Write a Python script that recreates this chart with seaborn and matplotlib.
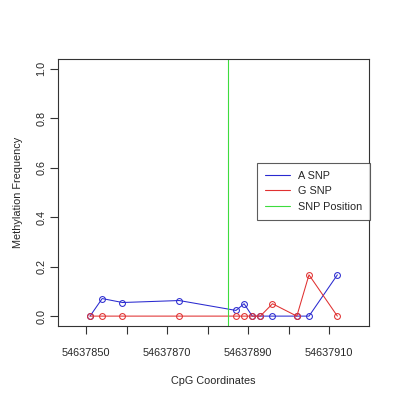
import matplotlib
matplotlib.use('Agg')
import matplotlib.pyplot as plt
from matplotlib.lines import Line2D
import seaborn as sns
import pandas as pd

# ─── Data ─────────────────────────────────────────────────────────────────────
positions = [54637851, 54637854, 54637859, 54637873, 54637887, 54637889,
             54637891, 54637893, 54637896, 54637902, 54637905, 54637912]
a_snp = [0.0, 0.071, 0.055, 0.063, 0.023, 0.05, 0.0, 0.0, 0.0, 0.0, 0.0, 0.167]
g_snp = [0.0, 0.0, 0.0, 0.0, 0.0, 0.0, 0.0, 0.0, 0.05, 0.0, 0.167, 0.0]
snp_position = 54637885
x_ticks = [54637850, 54637860, 54637870, 54637880, 54637890, 54637900, 54637910]
x_labels = ['54637850', '', '54637870', '', '54637890', '', '54637910']
y_ticks = [0.0, 0.2, 0.4, 0.6, 0.8, 1.0]
legend_labels = ['A SNP', 'G SNP', 'SNP Position']

BLUE = '#2a2ad0'
RED = '#e03030'
GREEN = '#3ddc3d'
FS = 7.8

sns.set_style('white')
plt.rcParams['font.family'] = ['Liberation Sans', 'DejaVu Sans']
plt.rcParams['font.size'] = FS

df = pd.DataFrame({'pos': positions, 'A': a_snp, 'G': g_snp})

fig = plt.figure(figsize=(4, 4), dpi=100)
ax = fig.add_axes([0.146, 0.185, 0.7765, 0.6675])

line_kw = dict(marker='o', markersize=4.2, markerfacecolor='none',
               markeredgewidth=0.75, linewidth=0.75, legend=False)
sns.lineplot(data=df, x='pos', y='A', color=BLUE, markeredgecolor=BLUE,
             ax=ax, **line_kw)
sns.lineplot(data=df, x='pos', y='G', color=RED, markeredgecolor=RED,
             ax=ax, **line_kw)
ax.axvline(snp_position, color=GREEN, linewidth=0.8)

ax.set_xlim(54637843.2, 54637919.8)
ax.set_ylim(-0.04, 1.04)
ax.set_xticks(x_ticks)
ax.set_xticklabels(x_labels)
ax.set_yticks(y_ticks)
ax.set_yticklabels([f'{v:.1f}' for v in y_ticks], rotation=90, va='center')

ax.tick_params(axis='both', direction='out', length=6, width=0.8,
               color='#333333', labelsize=FS, bottom=True, left=True)
ax.tick_params(axis='x', pad=10)
ax.tick_params(axis='y', pad=2.5)
for s in ax.spines.values():
    s.set_color('#333333')
    s.set_linewidth(0.8)

ax.set_xlabel('CpG Coordinates', fontsize=FS, labelpad=12.5)
ax.set_ylabel('Methylation Frequency', fontsize=FS, labelpad=10)

# legend shows lines only
handles = [Line2D([], [], color=c, linewidth=0.8) for c in (BLUE, RED, GREEN)]
leg = ax.legend(handles, legend_labels, loc='upper left', bbox_to_anchor=(0.64, 0.612),
                frameon=True, fancybox=False, fontsize=FS, handlelength=2.3,
                handletextpad=0.7, borderpad=0.75, labelspacing=0.5, borderaxespad=0)
leg.get_frame().set_edgecolor('#333333')
leg.get_frame().set_linewidth(0.8)

fig.savefig('out.png', dpi=100)
